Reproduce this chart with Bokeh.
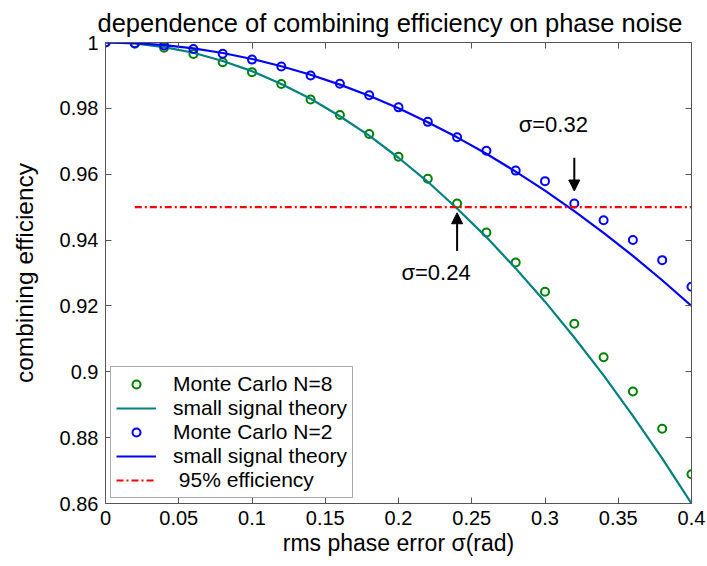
from bokeh.plotting import figure
from bokeh.models import (Range1d, FixedTicker, LinearAxis, Legend, LegendItem,
                          Label, Arrow, NormalHead, CustomJSTickFormatter)
from bokeh.embed import file_html
from bokeh.resources import INLINE

# ---------------- data ----------------
sigma = [0.00, 0.02, 0.04, 0.06, 0.08, 0.10, 0.12, 0.14, 0.16, 0.18, 0.20,
         0.22, 0.24, 0.26, 0.28, 0.30, 0.32, 0.34, 0.36, 0.38, 0.40]

mc_n8 = [1.0000, 0.9996, 0.9984, 0.9965, 0.9940, 0.9910, 0.9874, 0.9827, 0.9780, 0.9722, 0.9653,
         0.9586, 0.9511, 0.9423, 0.9332, 0.9243, 0.9146, 0.9044, 0.8940, 0.8827, 0.8689]
theory_n8 = [1.0000, 0.9997, 0.9986, 0.9969, 0.9944, 0.9913, 0.9874, 0.9829, 0.9776, 0.9717, 0.9650,
             0.9577, 0.9496, 0.9409, 0.9314, 0.9213, 0.9104, 0.8989, 0.8866, 0.8737, 0.8600]

mc_n2 = [1.0000, 0.9998, 0.9991, 0.9980, 0.9966, 0.9948, 0.9927, 0.9900, 0.9875, 0.9840, 0.9803,
         0.9759, 0.9712, 0.9671, 0.9611, 0.9579, 0.9511, 0.9460, 0.9400, 0.9339, 0.9258]
theory_n2 = [1.0000, 0.9998, 0.9992, 0.9982, 0.9968, 0.9950, 0.9928, 0.9902, 0.9872, 0.9838, 0.9800,
             0.9758, 0.9712, 0.9662, 0.9608, 0.9550, 0.9488, 0.9422, 0.9352, 0.9278, 0.9200]

threshold_x = [0.02, 0.40]
threshold_y = [0.95, 0.95]

x_ticks = [0, 0.05, 0.1, 0.15, 0.2, 0.25, 0.3, 0.35, 0.4]
x_tick_labels = ["0", "0.05", "0.1", "0.15", "0.2", "0.25", "0.3", "0.35", "0.4"]
y_ticks = [0.86, 0.88, 0.9, 0.92, 0.94, 0.96, 0.98, 1.0]
y_tick_labels = ["0.86", "0.88", "0.9", "0.92", "0.94", "0.96", "0.98", "1"]

note_text = ["\u03c3=0.32", "\u03c3=0.24"]
note_x = [0.282, 0.202]
note_y = [0.9750, 0.9302]
arrow_x = [0.32, 0.24]
arrow_y_start = [0.9650, 0.9367]
arrow_y_end = [0.9549, 0.9483]

FONT = "Liberation Sans"
AXIS_COLOR = "#555555"

p = figure(width=707, height=566, output_backend="svg", toolbar_location=None,
           x_range=Range1d(0, 0.4), y_range=Range1d(0.86, 1.0),
           title="dependence of combining efficiency on phase noise",
           min_border_left=105, min_border_right=16, min_border_top=41, min_border_bottom=63)

p.title.text_font = FONT
p.title.text_font_size = "25.5px"
p.title.text_font_style = "normal"
p.title.text_color = "black"
p.title.align = "left"
p.title.offset = -8
p.title.standoff = 12
p.background_fill_color = "white"
p.border_fill_color = "white"
p.outline_line_color = AXIS_COLOR
p.xgrid.visible = False
p.ygrid.visible = False


def style_axis(ax, ticks, labels, show_labels):
    ax.ticker = FixedTicker(ticks=ticks)
    if show_labels:
        ax.major_label_overrides = dict(zip(ticks, labels))
    else:
        ax.formatter = CustomJSTickFormatter(code="return ''")
    ax.axis_line_color = AXIS_COLOR
    ax.major_tick_line_color = AXIS_COLOR
    ax.major_tick_in = 6
    ax.major_tick_out = 0
    ax.minor_tick_line_color = None
    ax.major_label_text_font = FONT
    ax.major_label_text_font_size = "20px"
    ax.major_label_text_color = "black"
    ax.axis_label_text_font = FONT
    ax.axis_label_text_font_style = "normal"
    ax.axis_label_text_color = "black"


style_axis(p.xaxis[0], x_ticks, x_tick_labels, True)
style_axis(p.yaxis[0], y_ticks, y_tick_labels, True)
p.xaxis.axis_label = "rms phase error \u03c3(rad)"
p.yaxis.axis_label = "combining efficiency"
p.xaxis.axis_label_text_font_size = "23px"
p.yaxis.axis_label_text_font_size = "24.5px"
p.xaxis.major_label_standoff = 7
p.yaxis.major_label_standoff = 7
p.xaxis.axis_label_standoff = 2
p.yaxis.axis_label_standoff = 19

top_axis = LinearAxis()
style_axis(top_axis, x_ticks, x_tick_labels, False)
top_axis.major_label_standoff = 0
p.add_layout(top_axis, "above")
right_axis = LinearAxis()
style_axis(right_axis, y_ticks, y_tick_labels, False)
right_axis.major_label_standoff = 0
p.add_layout(right_axis, "right")

# ---------------- glyphs ----------------
r_mc8 = p.scatter(sigma, mc_n8, marker="circle", size=8, fill_color=None,
                  line_color="#008000", line_width=2)
r_th8 = p.line(sigma, theory_n8, line_color="#008080", line_width=2.2)
r_mc2 = p.scatter(sigma, mc_n2, marker="circle", size=8, fill_color=None,
                  line_color="#0000ff", line_width=2)
r_th2 = p.line(sigma, theory_n2, line_color="#0000ff", line_width=2.2)
r_thr = p.line(threshold_x, threshold_y, line_color="#ff0000", line_width=2.2,
               line_dash="7 3 2 3")

for t, x, y in zip(note_text, note_x, note_y):
    p.add_layout(Label(x=x, y=y, text=t, text_font=FONT, text_font_size="22px",
                       text_color="black", text_baseline="middle", text_align="left"))

for x, y0, y1 in zip(arrow_x, arrow_y_start, arrow_y_end):
    p.add_layout(Arrow(end=NormalHead(size=11, fill_color="black", line_color="black"),
                       x_start=x, y_start=y0, x_end=x, y_end=y1,
                       line_color="black", line_width=2))

legend = Legend(items=[
    LegendItem(label="Monte Carlo N=8", renderers=[r_mc8]),
    LegendItem(label="small signal theory", renderers=[r_th8]),
    LegendItem(label="Monte Carlo N=2", renderers=[r_mc2]),
    LegendItem(label="small signal theory", renderers=[r_th2]),
    LegendItem(label=" 95% efficiency", renderers=[r_thr]),
], location="bottom_left")
legend.label_text_font = FONT
legend.label_text_font_size = "21px"
legend.label_text_color = "black"
legend.padding = 5
legend.spacing = 0
legend.glyph_width = 40
legend.glyph_height = 20
legend.label_height = 20
legend.label_standoff = 17
legend.margin = 5
legend.border_line_color = AXIS_COLOR
legend.border_line_width = 1
legend.background_fill_color = "white"
legend.background_fill_alpha = 1
p.add_layout(legend)

open("out.html", "w").write(file_html(p, INLINE))
